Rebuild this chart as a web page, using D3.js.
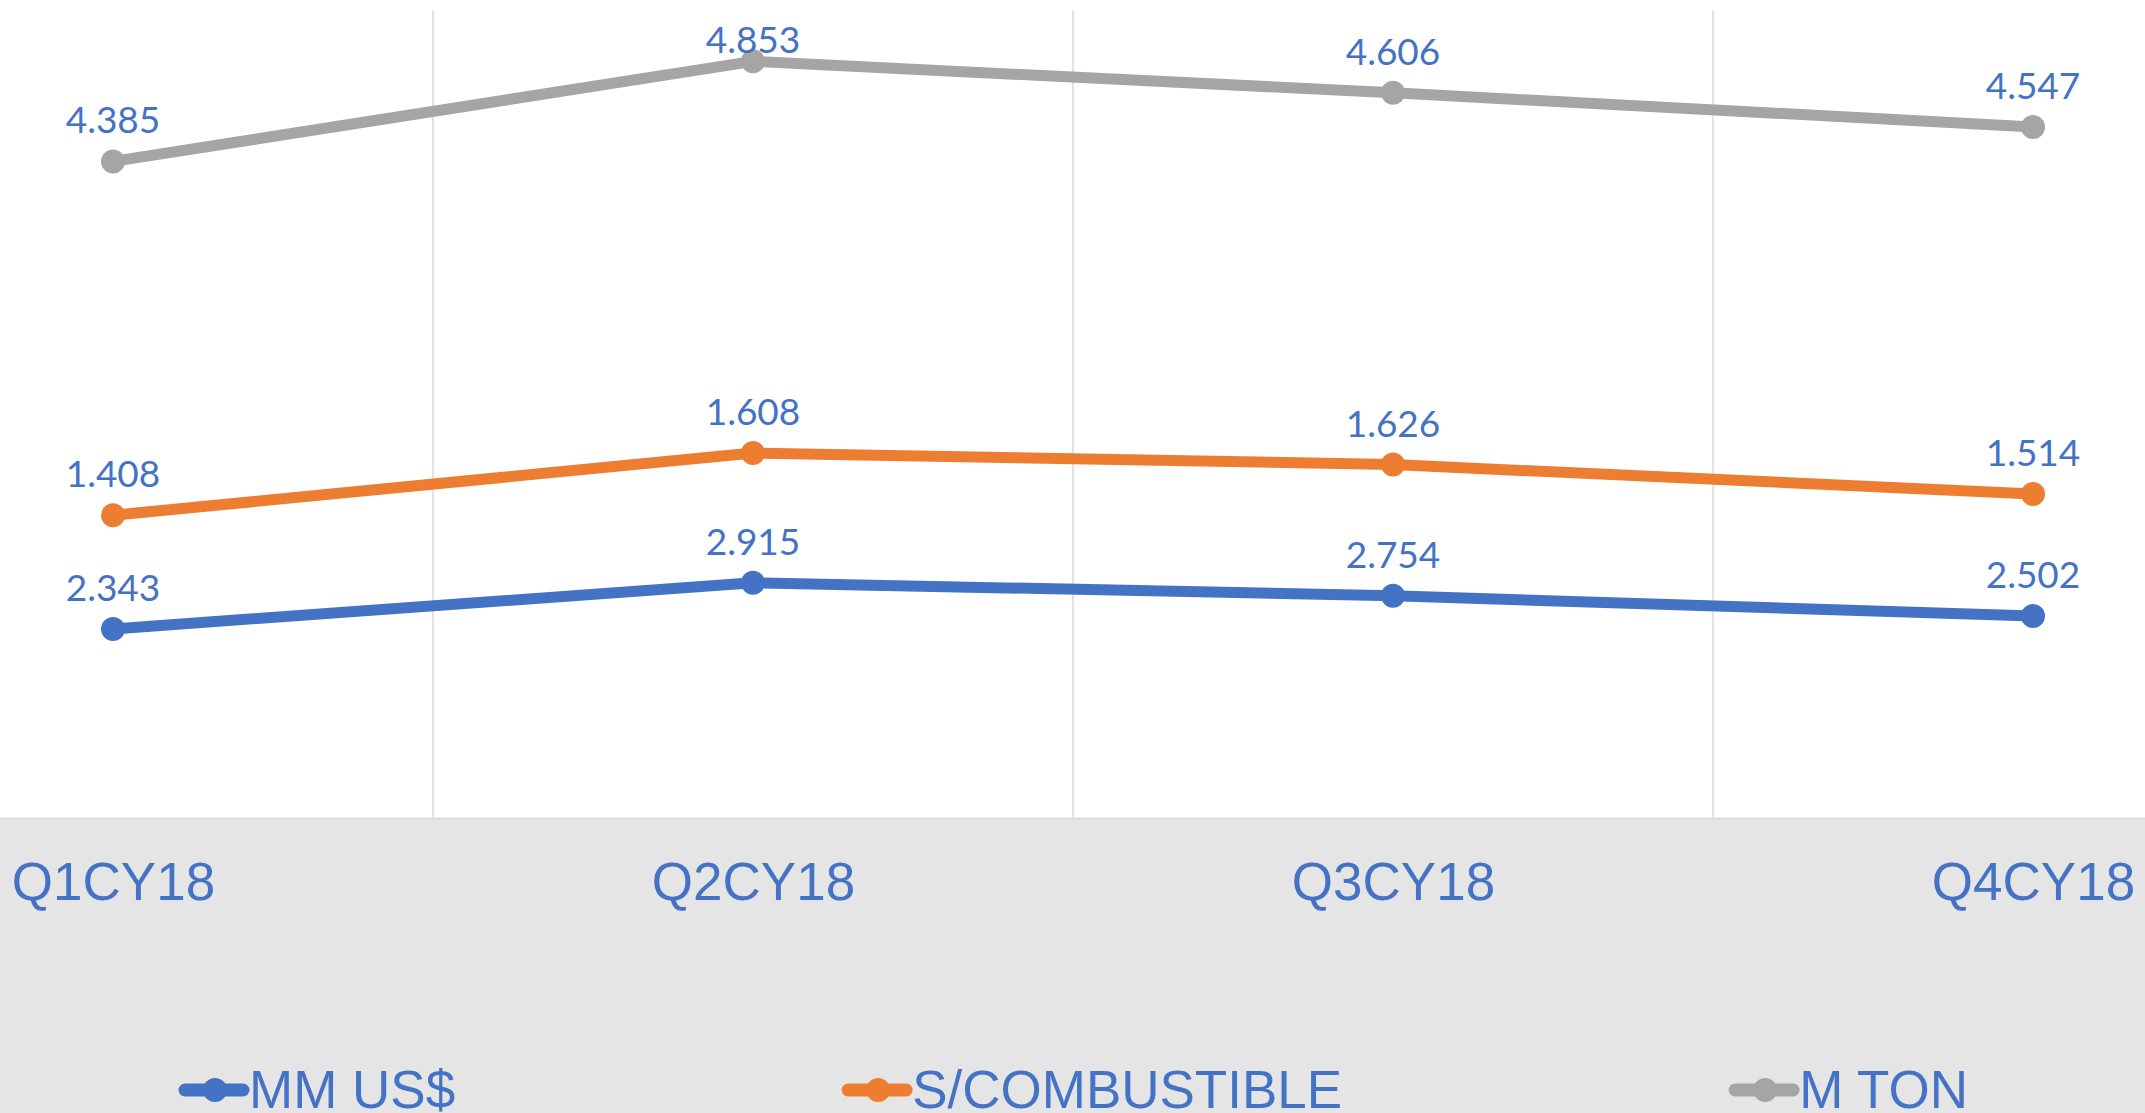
<!DOCTYPE html>
<html><head><meta charset="utf-8">
<script src="https://cdn.jsdelivr.net/npm/d3@7"></script>
<style>html,body{margin:0;padding:0;background:#fff;overflow:hidden}</style>
</head><body>
<svg id="c" width="2145" height="1113"></svg>
<script>
const categories = ["Q1CY18","Q2CY18","Q3CY18","Q4CY18"];
const seriesNames = ["MM US$","S/COMBUSTIBLE","M TON"];
const mmUsd = [2.343, 2.915, 2.754, 2.502];
const combustible = [1.408, 1.608, 1.626, 1.514];
const mTon = [4.385, 4.853, 4.606, 4.547];
const colors = ["#4472C4","#ED7D31","#A5A5A5"];
const yDomain = [0, 10];

const W = 2145, H = 1113;
const svg = d3.select("#c");
const plotBottom = 818, plotTop = 11;

const table = categories.map((c,i)=>({cat:c, "MM US$":mmUsd[i], "S/COMBUSTIBLE":combustible[i], "M TON":mTon[i]}));
const stacked = d3.stack().keys(seriesNames)(table);

const x = d3.scaleBand().domain(categories).range([-207, 2353]).paddingInner(0).paddingOuter(0);
const cx = c => x(c) + x.bandwidth()/2;
const y = d3.scaleLinear().domain(yDomain).range([plotBottom, plotTop]);

// category band background
svg.append("rect").attr("x",0).attr("y",plotBottom).attr("width",W).attr("height",H-plotBottom).attr("fill","#E5E5E5");
svg.append("line").attr("x1",0).attr("x2",W).attr("y1",plotBottom+0.5).attr("y2",plotBottom+0.5).attr("stroke","#D6D6D6").attr("stroke-width",1.5);

// vertical gridlines at band boundaries
const bounds = categories.slice(1).map(c => x(c));
svg.append("g").selectAll("line").data(bounds).join("line")
  .attr("x1",d=>d).attr("x2",d=>d).attr("y1",plotTop).attr("y2",plotBottom)
  .attr("stroke","#D9D9D9").attr("stroke-width",1.5);

// category labels
const xAxis = d3.axisBottom(d3.scalePoint().domain(categories).range([cx(categories[0]), cx(categories[3])])).tickSize(0).tickPadding(0);
const gx = svg.append("g").attr("transform",`translate(0,${plotBottom})`).call(xAxis);
gx.select(".domain").remove();
gx.selectAll("text").attr("dy",null).attr("y",82).attr("fill","#4472C4")
  .style("font-family","'Liberation Sans', Arial, sans-serif").style("font-size","53px");

// lines
const line = d3.line().x(d=>cx(d.data.cat)).y(d=>y(d[1]));
stacked.forEach((s,si)=>{
  svg.append("path").datum(s).attr("d",line).attr("fill","none")
    .attr("stroke",colors[si]).attr("stroke-width",11).attr("stroke-linejoin","round");
});
stacked.forEach((s,si)=>{
  svg.append("g").selectAll("circle").data(s).join("circle")
    .attr("cx",d=>cx(d.data.cat)).attr("cy",d=>y(d[1])).attr("r",12).attr("fill",colors[si]);
});
// data labels (kept inside the chart area, as the original does)
const minBaseline = 53;
stacked.forEach((s,si)=>{
  svg.append("g").selectAll("text").data(s).join("text")
    .attr("x",d=>cx(d.data.cat)).attr("y",d=>Math.max(y(d[1])-28, minBaseline))
    .attr("text-anchor","middle").attr("fill","#4472C4")
    .style("font-family","Lato, 'Carlito', Calibri, sans-serif").style("font-size","37px")
    .text(d=>d3.format(".3f")(d[1]-d[0]));
});

// legend
const lg = svg.append("g");
const items = seriesNames.map((n,i)=>{
  const g = lg.append("g");
  g.append("line").attr("x1",0).attr("x2",58).attr("y1",0).attr("y2",0)
    .attr("stroke",colors[i]).attr("stroke-width",13).attr("stroke-linecap","round");
  g.append("circle").attr("cx",30).attr("cy",0).attr("r",12).attr("fill",colors[i]);
  const t = g.append("text").attr("x",64).attr("y",18).attr("fill","#4472C4")
    .style("font-family","'Liberation Sans', Arial, sans-serif").style("font-size","53px").text(n);
  return {g, w: 64 + t.node().getComputedTextLength()};
});
const gap = 393;
const total = d3.sum(items, d=>d.w) + gap*(items.length-1);
let pos = W/2 - total/2 + 4;
items.forEach(it=>{ it.g.attr("transform",`translate(${pos},1090)`); pos += it.w + gap; });
</script>
</body></html>
